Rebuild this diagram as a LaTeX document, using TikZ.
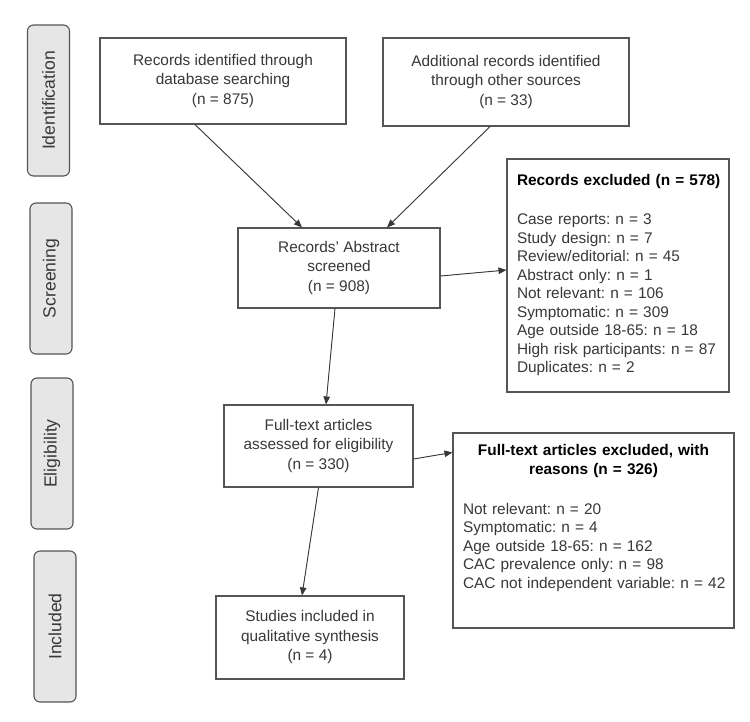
\documentclass[tikz,border=0pt]{standalone}
\usepackage{fontspec}
\setmainfont{Liberation Sans}
\usetikzlibrary{arrows.meta}
\definecolor{bordergray}{HTML}{555555}
\definecolor{txtgray}{HTML}{383838}
\definecolor{labelfill}{HTML}{E6E6E6}
\frenchspacing
\begin{document}
\begin{tikzpicture}[x=1pt,y=-1pt,
  box/.style={draw=bordergray, line width=1.1pt, fill=white, text=txtgray, align=center, inner sep=0pt,
    font=\fontsize{15.4}{19.5}\selectfont},
  phase/.style={draw=bordergray, line width=1.1pt, fill=labelfill, rounded corners=6pt, rotate=90,
    minimum width=151pt, minimum height=42pt, inner sep=0pt, text=txtgray,
    font=\fontsize{17.6}{20}\selectfont},
  excl/.style={draw=bordergray, line width=1.1pt, fill=white, align=left, inner sep=0pt, text=txtgray,
    font=\fontsize{15.4}{18.5}\selectfont\frenchspacing},
  arr/.style={-{Triangle[length=8pt,width=6.5pt]}, draw=txtgray, fill=txtgray, line width=0.9pt}]
\useasboundingbox (0,0) rectangle (750,721);
\fill[white] (0,0) rectangle (750,721);

% phase labels
\node[phase] (idf) at (48.5,100.5) {Identification};
\node[phase] (scrl) at (51,278.5) {Screening};
\node[phase] (elil) at (52,453.5) {Eligibility};
\node[phase] (incl) at (55,626.5) {Included};

% main boxes
\node[box, minimum width=246pt, minimum height=86pt] (db) at (223,81)
  {Records identified through\\database searching\\(n = 875)};
\node[box, minimum width=246pt, minimum height=88pt] (add) at (506,82)
  {Additional records identified\\through other sources\\(n = 33)};
\node[box, minimum width=202pt, minimum height=80pt] (scr) at (339,268)
  {Records' Abstract\\screened\\(n = 908)};
\node[box, minimum width=189pt, minimum height=82pt] (ft) at (318.5,446)
  {Full-text articles\\assessed for eligibility\\(n = 330)};
\node[box, minimum width=188pt, minimum height=83pt] (stu) at (310,637.5)
  {Studies included in\\qualitative synthesis\\(n = 4)};

% exclusion boxes
\node[excl, minimum width=222pt, minimum height=233pt, text width=202pt] (ex1) at (618,275.5)
  {\mbox{\bfseries\color{black}Records excluded (n = 578)}\\[20.5pt]
   \mbox{Case reports: n = 3}\\
   \mbox{Study design: n = 7}\\
   \mbox{Review/editorial: n = 45}\\
   \mbox{Abstract only: n = 1}\\
   \mbox{Not relevant: n = 106}\\
   \mbox{Symptomatic: n = 309}\\
   \mbox{Age outside 18-65: n = 18}\\
   \mbox{High risk participants: n = 87}\\
   \mbox{Duplicates: n = 2}};
\node[excl, minimum width=281pt, minimum height=195pt, text width=261pt] (ex2) at (593.5,530.5)
  {{\centering\bfseries\color{black}Full-text articles excluded, with\\reasons (n = 326)\par}
   \vspace{21.5pt}
   \mbox{Not relevant: n = 20}\\
   \mbox{Symptomatic: n = 4}\\
   \mbox{Age outside 18-65: n = 162}\\
   \mbox{CAC prevalence only: n = 98}\\
   \mbox{CAC not independent variable: n = 42}\\[10pt]
   \mbox{}};

% connectors
\draw[arr] ([xshift=-28pt]db.south) -- ([xshift=-37pt]scr.north);
\draw[arr] ([xshift=-16pt]add.south) -- ([xshift=48pt]scr.north);
\draw[arr] ([yshift=-8pt]scr.east) -- ([yshift=5.5pt]ex1.west);
\draw[arr] ([xshift=-4pt]scr.south) -- ([xshift=7.5pt]ft.north);
\draw[arr] ([yshift=-13pt]ft.east) -- ([yshift=-20pt]ex2.north west);
\draw[arr] (ft.south) -- ([xshift=-8pt]stu.north);
\end{tikzpicture}
\end{document}
